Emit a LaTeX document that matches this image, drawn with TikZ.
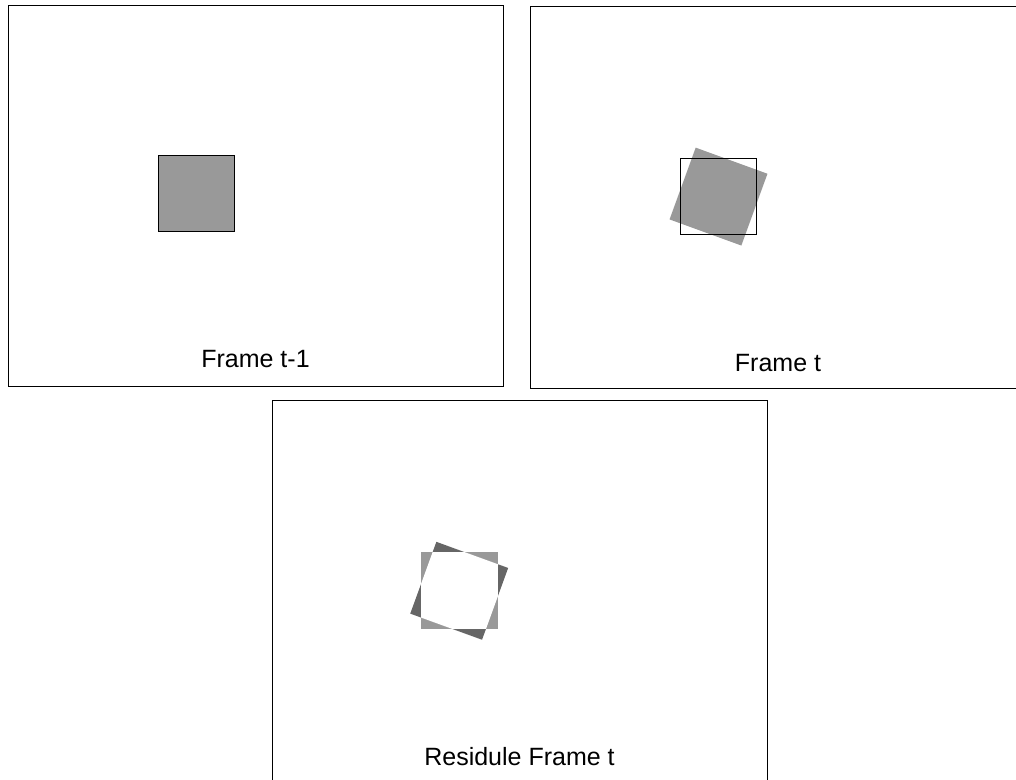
\documentclass[tikz,border=0pt]{standalone}
\usepackage{fontspec}
\setmainfont{Liberation Sans}
\usepackage{xcolor}
\usetikzlibrary{calc,positioning}
\definecolor{shade}{HTML}{999999}
\definecolor{darkshade}{HTML}{666666}

\begin{document}
\begin{tikzpicture}[
  x=1pt,y=1pt,
  frame/.style={draw,line width=1pt},
  caption/.style={anchor=base,inner sep=0pt,font=\fontsize{25}{30}\selectfont},
  block/.style={fill=shade}
]
  \useasboundingbox (0,0) rectangle (1016,779);

  % frame t-1
  \draw[frame] (8,773) rectangle (503.5,392);
  \coordinate (c1) at (196.2,585.3);
  \fill[block] ($(c1)+(-38.2,-38.2)$) rectangle ($(c1)+(38.2,38.2)$);
  \draw[line width=1pt] ($(c1)+(-38.2,-38.2)$) rectangle ($(c1)+(38.2,38.2)$);
  \node[caption] (lab1) at (255.5,411.7) {Frame t-1};

  % frame t: moved block and old position
  \draw[frame] (530,772.5) rectangle (1026,390);
  \coordinate (c2) at (718.5,582.4);
  \fill[block,shift={(c2)},rotate=-20] (-38.2,-38.2) rectangle (38.2,38.2);
  \draw[line width=1pt] ($(c2)+(-38.4,-38.4)$) rectangle ($(c2)+(38.4,38.4)$);
  \node[caption] (lab2) at (778,407.3) {Frame t};

  % residue
  \draw[frame] (272,378) rectangle (767.5,-10);
  \coordinate (c3) at (459.2,188.2);
  \fill[darkshade,shift={(c3)},rotate=-20] (-38.2,-38.2) rectangle (38.2,38.2);
  \fill[block] ($(c3)+(-38.4,-38.4)$) rectangle ($(c3)+(38.4,38.4)$);
  \begin{scope}
    \clip[shift={(c3)},rotate=-20] (-38.2,-38.2) rectangle (38.2,38.2);
    \fill[white] ($(c3)+(-38.4,-38.4)$) rectangle ($(c3)+(38.4,38.4)$);
  \end{scope}
  \node[caption] (lab3) at (519.5,14) {Residule Frame t};
\end{tikzpicture}
\end{document}
